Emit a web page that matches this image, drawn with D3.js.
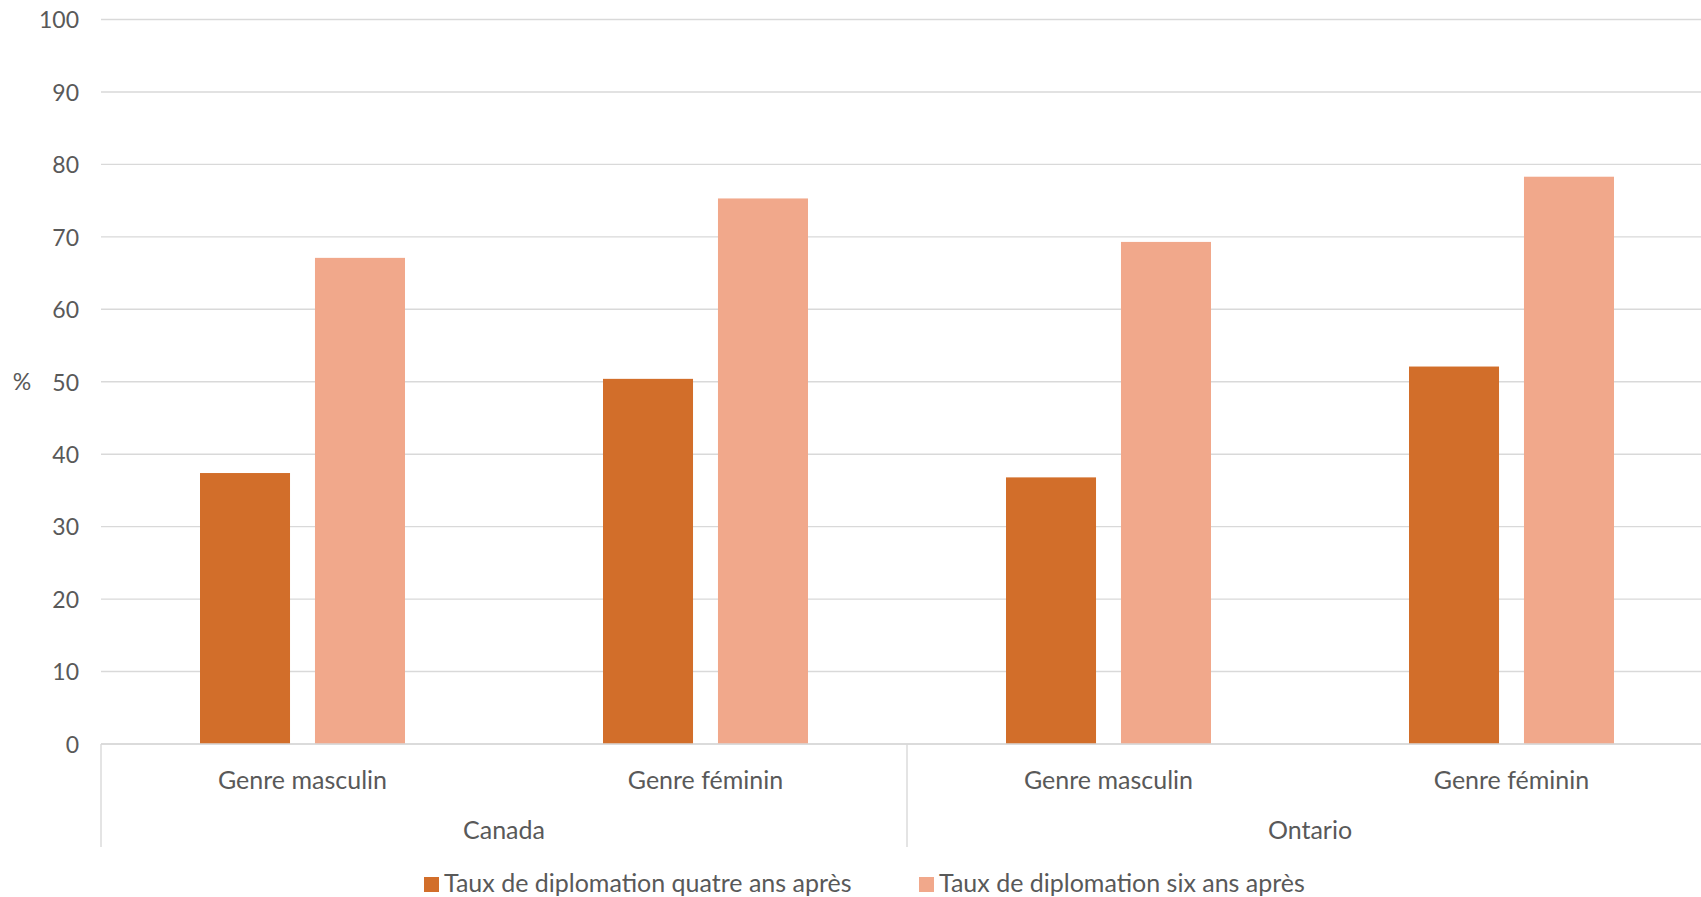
<!DOCTYPE html>
<html lang="fr">
<head>
<meta charset="utf-8">
<title>Taux de diplomation</title>
<script src="https://cdn.jsdelivr.net/npm/d3@7"></script>
<style>
  html, body { margin: 0; padding: 0; background: #fff; }
  svg { display: block; }
  text { font-family: Lato, "Open Sans", sans-serif; fill: #595959; }
</style>
</head>
<body>
<div id="chart"></div>
<script>
// data
var regions = ["Canada", "Ontario"];
var genres = ["Genre masculin", "Genre féminin"];
var seriesNames = ["Taux de diplomation quatre ans après", "Taux de diplomation six ans après"];
var quatreAns = [37.4, 50.4, 36.8, 52.1];
var sixAns = [67.1, 75.3, 69.3, 78.3];
var yTicks = [0, 10, 20, 30, 40, 50, 60, 70, 80, 90, 100];
var colors = ["#d26e2a", "#f1a88b"];

var w = 1701, h = 897;
var plotLeft = 101, plotRight = 1713, plotTop = 19.5, plotBottom = 744;

var rows = [];
regions.forEach(function(r, i) {
  genres.forEach(function(g, j) {
    var k = i * genres.length + j;
    rows.push({key: r + "|" + g, region: r, genre: g, values: [quatreAns[k], sixAns[k]]});
  });
});

var svg = d3.select("#chart").append("svg")
  .attr("width", w)
  .attr("height", h);

var y = d3.scaleLinear().domain([0, 100]).range([plotBottom, plotTop]);

var xRegion = d3.scaleBand().domain(regions).range([plotLeft, plotRight]);
var x = d3.scaleBand().domain(rows.map(function(d) { return d.key; })).range([plotLeft, plotRight]);
var xSeries = d3.scaleBand().domain([0, 1])
  .range([99, x.bandwidth() - 99])
  .paddingInner(0.217);

// gridlines
svg.append("g")
  .selectAll("line")
  .data(yTicks)
  .enter().append("line")
  .attr("x1", plotLeft)
  .attr("x2", w)
  .attr("y1", function(d) { return y(d); })
  .attr("y2", function(d) { return y(d); })
  .attr("stroke", "#d9d9d9")
  .attr("stroke-width", 1.4);

// y axis labels
var yAxis = d3.axisLeft(y).tickValues(yTicks).tickSize(0).tickPadding(0);
var ya = svg.append("g")
  .attr("transform", "translate(79,0)")
  .call(yAxis);
ya.select(".domain").remove();
ya.selectAll("text")
  .attr("font-size", 23)
  .attr("font-family", "Lato, sans-serif")
  .attr("fill", "#595959")
  .attr("dy", "0.36em");

svg.append("text")
  .attr("x", 22)
  .attr("y", y(50))
  .attr("dy", "0.36em")
  .attr("text-anchor", "middle")
  .attr("font-size", 23)
  .text("%");

// bars
var groups = svg.append("g")
  .selectAll("g")
  .data(rows)
  .enter().append("g")
  .attr("transform", function(d) { return "translate(" + x(d.key) + ",0)"; });

groups.selectAll("rect")
  .data(function(d) { return d.values; })
  .enter().append("rect")
  .attr("x", function(d, i) { return xSeries(i); })
  .attr("width", xSeries.bandwidth())
  .attr("y", function(d) { return y(d); })
  .attr("height", function(d) { return y(0) - y(d); })
  .attr("fill", function(d, i) { return colors[i]; });

// category axis
svg.append("line")
  .attr("x1", plotLeft).attr("x2", w)
  .attr("y1", y(0)).attr("y2", y(0))
  .attr("stroke", "#d9d9d9")
  .attr("stroke-width", 1.4);

var seps = regions.map(function(r) { return xRegion(r); }).concat([plotRight]);
svg.append("g")
  .selectAll("line")
  .data(seps)
  .enter().append("line")
  .attr("x1", function(d) { return d; })
  .attr("x2", function(d) { return d; })
  .attr("y1", y(0))
  .attr("y2", 847)
  .attr("stroke", "#d9d9d9")
  .attr("stroke-width", 1.4);

svg.append("g")
  .selectAll("text")
  .data(rows)
  .enter().append("text")
  .attr("x", function(d) { return x(d.key) + x.bandwidth() / 2; })
  .attr("y", 789)
  .attr("text-anchor", "middle")
  .attr("font-size", 25)
  .text(function(d) { return d.genre; });

svg.append("g")
  .selectAll("text")
  .data(regions)
  .enter().append("text")
  .attr("x", function(d) { return xRegion(d) + xRegion.bandwidth() / 2; })
  .attr("y", 839)
  .attr("text-anchor", "middle")
  .attr("font-size", 25)
  .text(function(d) { return d; });

// legend
var legendX = [424, 919];
var legend = svg.append("g")
  .selectAll("g")
  .data(seriesNames)
  .enter().append("g")
  .attr("transform", function(d, i) { return "translate(" + legendX[i] + ",0)"; });

legend.append("rect")
  .attr("x", 0)
  .attr("y", 877)
  .attr("width", 15)
  .attr("height", 15)
  .attr("fill", function(d, i) { return colors[i]; });

legend.append("text")
  .attr("x", 20)
  .attr("y", 892)
  .attr("font-size", 25)
  .text(function(d) { return d; });
</script>
</body>
</html>
